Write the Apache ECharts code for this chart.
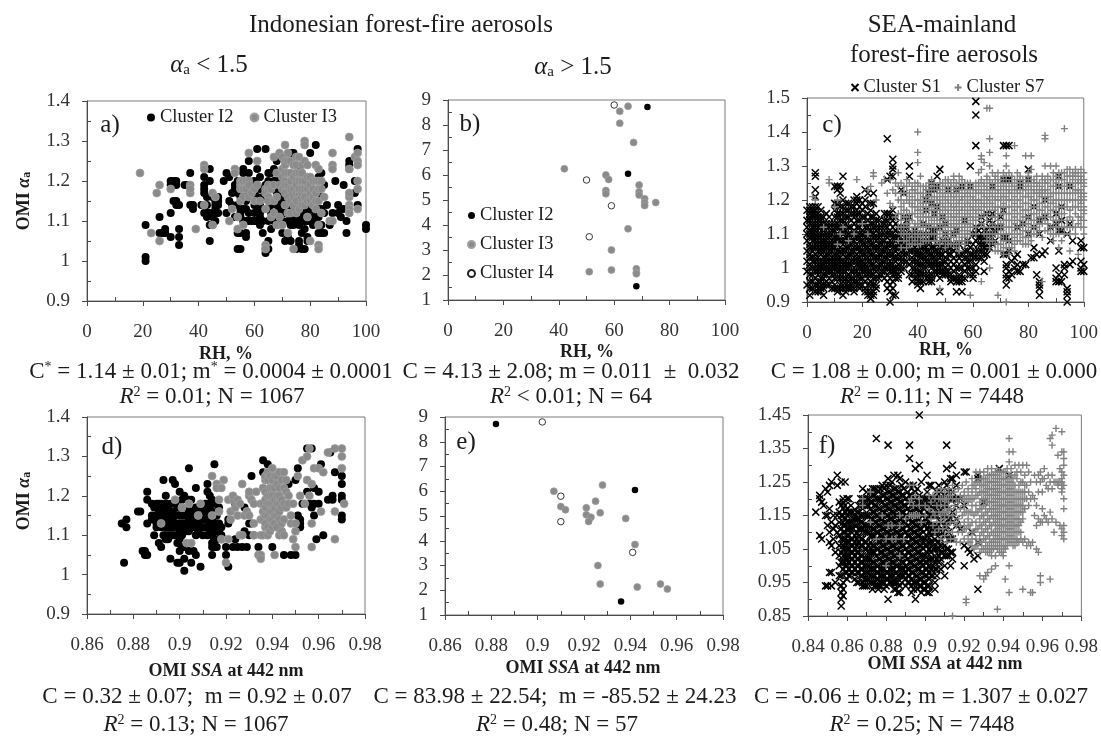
<!DOCTYPE html>
<html><head><meta charset="utf-8"><style>html,body{margin:0;background:#fff}#c{width:1101px;height:736px}</style>
<script src="https://cdn.jsdelivr.net/npm/echarts@6/dist/echarts.min.js"></script></head><body><div id="c"></div>
<script>
// Columns: [x, y-values in hundredths...]; panels a and c x = RH %, panels d and f x = SSA in thousandths
const a_I2=[[21,100,101,109],[26,107,111],[27,107],[28,108,107],[30,106,112,120,119],[31,120,119,115],[32,114,120,119,115],[33,104,106,108,114],[35,119],[36,119],[37,122,114],[38,114,113],[41,114],[42,121,119,118,117,112],[43,112,111,114,116],[44,105,109,123,120,112],[45,116,111,109],[46,115,114,113,110,112],[47,116,115,114,112],[49,120],[50,112,122],[51,115,121],[52,114,117],[53,118,111,119],[54,107,103,120,114,111,117],[55,103,113,112,111,118,119,116,107],[56,123,122,117,113,110],[57,106,107,113,110,118,115],[58,125,122,120,110,112,116],[59,110,118],[60,110,114,117,112,120],[61,128,123,110,119,113,116],[62,111,110,112,109,114,118,121],[63,107,116,110,113],[64,128,119,102,103],[65,105,103,110,118,113,115,120,122],[66,108,112,122,114,118],[67,115,123,110,118,120],[68,109,112,120,114,117,125],[69,110,116,118,113,120],[70,107,113,119,110,115,117],[71,105,122,114,112,116,118],[72,106,113,110,115,117],[73,105,109,127,112,114,116],[74,114,109,127,111,113,116],[75,103,115,110,112,113,118],[76,104,105,111,113,123,115,109,112,118],[77,103,112,110,116,122,107,114,118],[78,103,110,113,119,108,111,116],[79,105,106,112,110,114],[80,127,113,110,120],[81,113,111,115,109],[82,129,110,112],[83,107,109,111,113,121],[84,107,109,122,113,116],[85,119,107,112],[86,114],[87,109],[88,112],[89,120],[90,112,114],[91,113,111],[92,113,119],[93,107,110],[94,124,125,123],[96,117,120],[97,128,114],[100,108,109]];
const a_I3=[[19,122],[23,107],[25,117],[26,105,119],[30,118],[37,119,117,118],[39,108],[42,124,123,114],[45,109,117],[46,116],[51,110],[52,113],[53,123,122],[54,108,111],[55,119,118,115,120],[56,109,118,120,116],[57,120,118],[58,127,116,120,119],[59,117],[60,118,115],[61,125,119],[62,115],[64,104,103,113,118,117],[65,118,116,115,119],[66,111,118],[67,126,112,115,119],[68,116,109,122],[69,127,111,119],[70,109,121,126,118,123],[71,129,125,124,122,120,119,117,114],[72,127,107,112,122,125,119,116],[73,125,120,118,112,122,115],[74,124,103,118,116,121,114],[75,126,124,120,119,112,122,117,115],[76,126,117,118,113,122,120],[77,124,120,117,115,114,122,118],[78,130,129,125,118,116,120,114],[79,121,115,111,118,124],[80,105,119,117,115,121],[81,116,114,118,120],[82,124,120,117,113,115],[83,109,104,103,123,115,118,120],[84,120,118,112],[85,116],[87,110],[88,127,124,123,110],[94,131,123,116,117,114,113,112],[96,126],[97,127,125,124,120,118,113]];
const b_I2=[[72,8.72],[65,6.05],[68,1.55]];
const b_I3=[[65,8.75],[62,8.55],[62,8.07],[67,7.3],[42,6.25],[57,6],[58,5.82],[69,5.6],[57,5.38],[57,5.25],[69,5.33],[69,5.2],[71,5.05],[71,4.9],[71,4.78],[75,4.9],[65,3.85],[59,3],[59,2.2],[51,2.13],[68,2.25],[68,2.1],[68,2.05]];
const b_I4=[[60,8.8],[50,5.8],[59,4.77],[51,3.53]];
const c_S1=[[1,94,98,101,104,106,109,111,114,116,118],[2,96,100,103,105,108,110,112,115,117],[3,95,97,99,102,104,107,109,111,113,116,118,121,123,127,128],[4,94,96,99,101,103,106,108,110,113,115,118],[5,94,97,100,102,105,107,109,112,114,117],[6,92,95,98,101,103,106,108,111,113],[7,96,99,102,104,107,109,112],[8,97,100,102,105,107,110,113],[9,96,99,101,103,106,108,111],[10,94,97,100,102,104,107,109,112,115,119,124],[11,93,99,101,103,105,108,110,113,116,123,124],[12,95,98,100,103,106,109,112,118,122,124],[13,92,95,97,100,102,105,108,111,114,120,127],[14,93,99,101,103,106,109,113,117],[15,94,96,98,101,104,107,110,115,119],[16,95,99,102,105,108,112,116],[17,94,97,100,103,106,109,113,118,120],[18,96,99,102,104,107,110,114,117,120,121],[19,95,98,101,103,106,109,112,116,120],[20,97,100,102,105,108,111,115,119],[21,94,96,99,101,104,107,110,113,118,123],[22,92,95,98,100,103,106,109,112,116,122],[23,91,93,96,99,102,105,108,111,115,119],[24,92,95,98,101,104,107,110,113,122],[25,95,97,100,103,106,109,112,116],[26,98,101,104,107,110,114],[27,99,102,105,108,112],[28,97,100,103,106,110,113,116],[29,94,98,101,104,107,110,114,126,138],[30,90,93,97,100,102,105,108,111,116,127],[31,92,96,99,101,104,107,110,114,117,127,129,130,132],[32,92,98,100,103,106,109,113],[33,98,101,104,107,110],[34,100,103,106,110,123],[35,102,105,108,112,115,122],[36,104,107,110,114],[37,98,101,105,108,115,127,130],[38,96,100,103,107,110],[39,97,100,104,106,111],[40,95,97,99,102,105,108],[41,94,96,99,103,106],[42,98,101,104,107,113],[43,100,103,106,117,120],[44,96,97,102,105,108,112,122],[45,96,98,101,104,111,119,123,125],[46,101,103,106,111,116,123],[47,99,102,105,118,124,127],[48,93,99,101,104,112,129],[49,99,102,106,115],[50,98,100,103,107,113],[51,99,104,108,123],[52,96,98,102,106],[53,97,101,105,110],[54,93,96,100,111,123],[55,96,98,103,107],[56,93,96,100,104,124],[57,97,101,105,114],[58,100,103,108],[59,98,102,106,130,124],[60,97,98,103,110],[61,99,103,108,112,136,145,149],[62,103,107,111],[63,105,109,113,115],[64,99,104,107,111],[65,106,110,116],[66,106,110,114],[67,107,116,124],[68,111],[70,115],[71,126,136,117],[72,95,100,101,109,136,126],[73,97,99,108,136,126],[74,98,102],[76,99,101,104,112],[77,99,124,125],[78,101,113],[79,101],[80,129,126],[81,103],[82,103,106],[83,98,104],[84,92,94,95,96],[85,104],[86,105],[90,96,97,100],[91,96,98,105,111,124,127],[92,96,111],[93,100,98,101],[94,90,92,93,94],[95,124,101],[96,108,102],[99,99,100,102,106,108],[100,99,101,106]];
const c_S1_more=[[0,95,99,102,105,108,110,112,114,117],[1,92,96,100,103,107,110,113,115,117],[2,94,98,102,106,109,111,113,116,118],[3,93,100,103,106,108,110,112,115,117],[4,93,95,98,100,102,105,107,109,112,114,116],[5,93,96,99,101,104,106,108,110,113,115],[6,94,97,100,102,105,107,110,112,115],[7,95,98,100,103,106,108,110,113,116],[8,95,99,101,104,106,109,112,115],[9,94,98,100,102,105,107,110,113],[10,95,98,101,103,106,108,111,113,117],[11,94,97,100,102,104,107,109,112,115,119],[12,94,97,99,102,105,108,111,114,116],[13,94,96,99,101,104,107,110,113,116,118],[14,94,97,100,102,105,108,111,115,119],[15,95,97,100,103,106,109,112,117],[16,94,97,101,104,107,110,114,118],[17,93,96,99,102,105,108,111,115,116],[18,95,98,101,103,106,109,112,116,119],[19,94,97,100,102,105,108,110,114,118],[20,95,99,101,104,107,110,113,117],[21,93,98,100,103,106,109,112,115,120],[22,93,97,99,102,105,108,111,114],[23,92,95,98,101,104,107,110,113,117],[24,93,97,100,103,106,109,112,115,119],[25,94,99,102,105,108,111,114],[26,97,100,103,106,109,112],[27,98,101,104,107,110],[28,99,102,105,108,112,114],[29,96,100,103,106,109,112,116],[30,95,99,101,104,107,110,113],[31,94,98,100,103,106,109,112,115],[32,97,99,102,105,108,111,115],[33,97,100,103,106,109,112],[34,99,102,105,108,112],[35,100,104,107,110],[36,102,106,109,112],[38,98,102,105,108],[39,99,102,105,109],[40,96,98,101,104,107,110],[41,98,101,104,108],[42,96,100,103,106,110],[43,98,102,105,108],[44,98,101,104,107,110],[45,97,100,103,106,109],[46,99,102,105,109],[47,98,101,104,107],[48,97,100,103,106],[49,98,101,104,108],[50,99,102,105,110],[51,98,101,106],[52,97,100,104],[53,99,103,107],[54,97,102,106],[55,97,100,104],[56,97,102],[57,99,103],[58,102,105,107],[59,100,104],[60,100,104,107],[61,101,105,110],[62,105,109],[63,103,107],[64,102,106,109],[65,104,108],[66,108,112],[67,110,113],[68,108],[69,112],[70,112],[71,109,104],[72,97,98,104],[73,105],[75,100,103],[80,110,115],[82,112,118],[84,110,114],[86,115,120],[88,112,108],[90,113,116],[92,114,118],[94,110],[95,113]];
const c_S7=[[2,121],[3,120],[6,112],[8,125,126],[10,118],[11,107,120],[12,110],[13,112],[15,108],[17,110],[18,126],[20,113],[22,123,110],[23,124],[24,127,128],[25,120],[27,125],[28,126],[29,122],[30,119,126],[31,118,123],[32,115,122,125],[33,108,112,116,120,124,128],[34,106,110,114,118,122,125],[35,108,112,115,119,122],[36,106,110,113,117,120,124,126],[37,109,112,116,119,122,125],[38,107,111,114,118,121,124],[39,110,113,116,120,123],[40,109,112,115,118,122,125,131,134,140],[41,107,111,114,117,120,124,127],[42,110,113,116,119,122],[43,108,112,115,118,121,124],[44,110,113,117,120,123],[45,112,115,118,121,124],[46,110,113,116,119,123,125],[47,108,112,115,118,121,124],[48,94,107,111,114,117,120,123],[49,110,113,116,119,122,125],[50,106,109,112,115,118,121,124],[51,108,111,114,117,120,123,126],[52,107,110,113,116,119,122,125],[53,109,112,115,118,121,124,127],[54,106,110,113,116,119,122,125],[55,105,108,111,114,117,120,123,127],[56,109,112,115,118,121,124],[57,107,110,113,116,119,122,125],[58,108,111,114,117,120,123],[59,92,110,113,116,119,122,125],[60,112,115,118,121,124],[61,110,114,117,120,123],[62,115,118,122,125,128],[63,96,113,117,120,123,126,129,132,133],[64,110,116,119,122,125,131],[65,108,114,118,121,124,127,147],[66,100,106,110,117,120,123,126,130,134,138,147],[67,108,113,119,122,125,128],[68,105,110,115,118,121,124,127],[69,92,107,112,116,120,123,126,128],[70,105,109,113,118,121,124],[71,104,108,112,116,119,122,125,128],[72,90,106,110,114,118,121,124,127,130,133],[73,104,108,112,116,120,123,128],[74,106,110,114,118,122,125],[75,105,109,113,117,121,124,136],[76,108,112,116,120,123,126,128],[77,110,114,118,122,125,127],[78,107,111,115,119,123,126],[79,109,113,117,121,124,133],[80,107,111,115,119,122,125,128],[81,110,114,118,121,124,129,133],[82,112,116,120,123,126],[83,110,114,118,122,125],[84,113,117,121,123],[85,96,109,115,119,122,124,127],[86,111,116,120,123,126,130,138,139],[87,113,118,121,125],[88,110,115,119,122,126,130],[89,108,112,117,120,124,128],[90,110,114,118,122,125,130],[91,106,112,116,120,124,128],[92,108,114,118,122,126],[93,110,116,120,124,128,141],[94,112,118,122,125,129],[95,105,110,115,120,124,127],[96,112,118,122,126,128],[97,110,116,120,123,127,129],[98,104,113,118,122,125,128],[99,112,115,119,121,123,126,129],[100,110,114,117,120,122,125,128]];
const c_S7_more=[[34,112,116,120],[35,110,117,124],[36,108,115,122],[37,107,114,120],[38,109,116,119,123],[39,108,112,118,122,125],[40,107,110,113,117,120,124],[41,109,113,116,119,122],[42,108,112,115,118,121,124],[43,110,113,117,120,123],[44,108,112,115,119,122,125],[45,110,114,117,120,123,126],[46,108,112,115,118,121,124],[47,110,114,117,120,123],[48,109,113,116,119,122,125],[49,108,112,115,118,121,124],[50,108,111,114,117,120,123,126],[51,107,110,113,116,119,122,125],[52,109,112,115,118,121,124],[53,107,111,114,117,120,123,126],[54,108,112,115,118,121,124],[55,107,110,113,116,119,122,125],[56,108,111,114,117,120,123,126],[57,109,112,115,118,121,124],[58,110,113,116,119,122,125],[59,112,115,118,121,124],[60,114,117,120,123],[61,112,116,119,122,125],[62,117,120,124],[63,115,119,122,125],[64,112,118,121,124],[65,110,116,120,123,126],[66,108,112,119,122,125],[67,110,115,118,121,124],[68,107,112,117,120,123,126],[69,105,110,114,118,122,125],[70,107,111,116,120,123,126],[71,106,110,114,118,121,124,127],[72,108,112,116,120,123,126],[73,106,110,114,118,122,125],[74,108,112,116,120,124,127],[75,107,111,115,119,123,126],[76,110,114,118,122,125],[77,108,112,116,120,124,126],[78,109,113,117,121,125],[79,107,111,115,119,123,126],[80,109,113,117,121,124,127],[81,108,112,116,120,123,126],[82,110,114,118,122,125],[83,112,116,120,124,127],[84,111,115,119,122,125],[85,113,117,121,123,126],[86,114,118,122,125],[87,111,116,120,123,127],[88,112,117,121,124],[89,110,114,119,122,126],[90,112,116,120,124,127],[91,110,114,118,122,126],[92,112,116,120,124,128],[93,112,118,122,126],[94,114,120,124,127],[95,112,117,122,125,129],[96,114,120,124,127],[97,112,118,122,125,128],[98,115,120,123,126],[99,114,117,120,122,125,127],[100,112,116,118,121,124,126]];
const d_I2=[[875,113],[876,103],[877,112,114],[882,116],[883,116],[884,106],[885,105,106],[886,105,113,121,119],[888,118,114,115],[889,110,114,117],[890,112,115,118,113],[891,108,114,116,118],[892,107,112,115,118,117],[893,124,117,115,113,110],[894,120,118,114,109,110,116,112],[895,115,117,110,113,112,109],[896,104,114,118,116,112,110],[897,124,116,112,114,110],[898,123,115,113,110,118],[899,103,112,115,117,108],[900,103,106,113,115,121,117,111,109],[901,110,107,115,113,119],[902,104,101,107,120,115,112,113],[903,113,115,117,111],[904,127,106,114,119,111,116],[905,103,119,112,115,113,116],[906,106,114,116,112],[907,105,122,113,115,117,110],[908,111,115,113,117],[909,102,117,114,112,115],[910,112,115,114,110,117],[911,116,114,112,118],[912,123,121,118,115,112,110],[913,120,117,113,115,111],[914,105,110,108,114,112,116,119,107],[915,128,118,107,111,112,115,109,113],[916,115,113,109,111,107],[917,117,113,111],[918,109,112,110],[920,105,107],[921,102,114,113],[923,107],[924,109,118],[925,107],[927,107],[928,111,117],[929,107],[930,110,113],[931,125,113],[932,110],[934,107],[936,129,126],[937,125,116],[938,128,113],[939,117],[940,107,113],[942,112],[944,111],[945,105],[947,123],[948,105],[950,105,124],[951,127,115],[952,112,114,113],[953,118],[955,132,121],[956,118],[957,132,117],[958,115,122,118],[959,109],[960,121,118],[961,128],[962,110],[964,119],[965,131],[966,120,119],[967,126],[970,125,123,120,119,115,114]];
const d_I3=[[892,113],[898,119],[901,117],[903,108],[904,118],[905,108],[908,115],[909,118],[914,125,115],[916,123,122],[917,119,116],[918,122,109],[919,124],[920,103],[921,109,119],[922,114,116],[923,119,120],[924,117],[925,119,115],[926,110,118],[927,123,110],[928,115],[929,116],[930,120,115,121],[931,119],[932,118,110,113],[933,121],[934,105],[935,118,105,104,114,110],[936,114,122,118,116,110],[937,124,125,119,117,112,121,115,113],[938,126,115,110,124,120,118,112],[939,122,118,116,125,120,114,111],[940,127,124,122,120,118,116,114,112],[941,105,122,117,125,119,115,113],[942,125,120,118,115,123,112],[943,126,122,118,116,110,120,114],[944,119,113,124,117,111],[945,122,114,110,118,126],[946,124,121,117],[947,118,120],[948,115,113],[949,118,109],[950,111,107,113],[951,125],[952,120],[953,129],[954,118],[955,130,124],[956,132,120],[957,123,113,107],[958,127],[960,127],[961,116],[962,126],[964,131],[967,116,109,132],[970,130,127,132],[971,118]];
const e_I2=[[0.882,8.72],[0.942,6.05],[0.936,1.55]];
const e_I3=[[0.907,6],[0.928,6.25],[0.925,5.6],[0.91,5.38],[0.912,5.25],[0.921,5.33],[0.921,5.05],[0.927,5.13],[0.923,4.95],[0.922,4.78],[0.938,4.9],[0.942,3.85],[0.926,3],[0.927,2.25],[0.943,2.13],[0.953,2.25],[0.956,2.05]];
const e_I4=[[0.902,8.8],[0.91,5.8],[0.91,4.77],[0.941,3.53]];
const f_S1=[[844,116],[846,121,120,109],[847,119,108],[848,118],[849,123,115,94],[850,94,122,115,112],[851,124,117,110,107,98],[852,125,113,106,98,94],[853,115,111,108],[854,112,104,95],[855,127,124,115,110],[856,119,116,113,109,106,103,100,97],[857,125,118,115,111,108,104,101,97,94,92,90,88],[858,120,117,113,110,106,103,99,95,93,91],[859,125,116,112,108,105,101,98],[860,120,115,111,107,103,100,96],[861,120,113,109,105,101,97],[862,116,111,106,102,98],[863,114,108,104,100],[864,112,107,103,99,96],[865,116,110,106,102,98,95],[866,118,114,109,104,100,95],[867,120,115,111,106,101,97],[868,123,117,113,108,103,99,95,94],[869,120,115,110,105,100,96,94],[870,122,118,112,107,102,98,94],[871,120,115,110,104,100,96],[872,122,117,112,107,102,97,95],[873,123,119,114,109,104,99,95,93],[874,121,116,111,106,101,97,94],[875,138,123,118,113,108,103,98,94],[876,120,115,110,105,100,96,93],[877,123,117,112,107,102,97,94],[878,124,119,114,109,104,99,95],[879,121,116,111,106,101,97,93],[880,124,118,113,108,103,98,94],[881,136,126,120,115,110,105,100,96,90],[882,122,117,112,107,102,97],[883,125,119,114,109,104,99,95],[884,127,121,116,111,106,101,97,93],[885,123,118,113,108,103,98,93],[886,127,120,115,110,105,100,95,92],[887,126,122,117,112,107,102,97,92],[888,124,119,114,109,104,99,95],[889,121,116,111,106,101,97],[890,125,118,113,108,103,98,94],[891,122,117,112,107,102,97],[892,136,132,124,119,114,109,104,99,95],[893,121,116,111,106,101,96,92],[894,124,118,113,108,103,98,93],[895,129,120,115,110,105,100,95,90],[896,123,117,112,107,102,97,93],[897,145,130,119,114,109,104,99,94],[898,125,116,111,106,101,96,92],[899,120,113,108,103,98,93],[900,118,112,106,101,97,93],[901,127,120,114,109,104,99,92],[902,124,115,110,105,100,96,92],[903,124,118,112,107,102,97],[904,120,115,110,105,100],[905,118,112,108,103,99,93],[906,122,115,110,105,99],[907,124,116,110,105,101],[908,122,117,111,106,102],[909,120,115,110,104],[910,125,118,112,106,100],[911,136,129,124,118,112,105,103],[912,122,117,110,105],[913,126,120,114,108,104,100],[914,130,122,113,104],[916,127,124,118,112],[918,120,111],[920,128,118,106,100],[921,128],[922,105],[923,104],[924,110],[925,102],[927,127,126,107,103,93],[930,119],[938,129],[943,127]];
const f_S1_more=[[858,101,105,108,112,115,119],[860,98,102,105,109,113,117],[862,100,104,108,113,118],[864,101,105,109,114],[866,98,102,107,111,116],[868,97,101,106,111,115,120],[870,96,100,105,110,115,120],[872,99,104,109,114,119],[874,95,99,104,109,113,118,123],[876,94,98,102,107,112,117,122],[878,97,101,106,111,116,121],[880,96,100,105,110,115,120],[882,95,99,104,109,114,119,124],[884,95,99,103,108,113,118,123],[886,97,102,107,112,117,122],[888,97,101,106,111,116,121],[890,96,100,105,110,115,120],[892,97,101,106,111,116,121],[894,95,100,105,110,115,120],[896,95,99,104,109,114,119],[898,94,98,103,108,113,118],[900,95,99,103,108,114,120],[902,94,98,102,107,112,118],[904,97,102,107,112,117],[906,97,102,107,112,118,120],[908,99,104,108,113,119],[910,97,103,109,115,121],[912,103,108,114,120],[914,102,108,116,120,126],[916,114,120],[859,100,103,107,110,114,118],[861,99,103,107,111,116],[863,98,102,106,111,116],[865,100,104,108,112,114],[867,99,103,108,113,118],[869,98,102,107,112,118],[871,98,102,106,112,118],[873,97,101,106,111,116,121],[875,96,100,105,110,115,120],[877,95,99,104,109,114,120],[879,95,99,103,108,113,118,123],[881,98,102,107,112,117,122],[883,97,101,106,111,116,121],[885,95,100,105,110,115,120],[887,94,99,104,109,114,119],[889,99,103,108,113,118,123],[891,95,99,104,109,114,119],[893,94,98,103,108,113,118,123],[895,97,102,107,112,117,122],[897,96,101,106,111,116,121],[899,95,100,105,110,115,118],[901,94,97,101,106,111,116,122],[903,99,104,109,115,120],[905,95,101,105,110,115,120],[907,103,107,112,118,120]];
const f_S7=[[868,120,118],[872,122,113],[875,108],[878,115],[880,108,100],[881,112],[883,112,108],[885,108],[887,115,112,103],[889,108],[890,114],[892,124,119,115],[893,120,115],[894,124,118,115],[895,121,115],[896,115],[897,120,118,115],[898,113],[900,118,115],[902,121,117],[903,119,114],[904,121,116,112],[905,120,115,110],[906,122,118,113],[907,120,116,111],[908,123,118,113,108],[909,120,116,111],[910,122,118,114,109],[911,120,116,112,107],[912,123,119,115,110],[913,121,117,113,108],[914,124,120,115,110,85],[915,122,118,113,108],[916,120,116,112,107],[917,123,119,114,110],[918,121,117,112,107],[919,124,120,115,110],[920,122,118,113,108],[921,125,120,116,111,90,89],[922,123,119,114,109],[923,120,116,112,107],[924,126,122,118,113,108],[925,124,120,115,110,105],[926,128,123,118,113,108],[927,125,121,116,111,106],[928,128,124,119,114,109,104,97],[929,126,122,117,112,107],[930,128,124,120,115,110,105,96],[931,126,122,118,113,108,104,97],[932,129,125,121,116,111,106,98],[933,127,123,119,114,109,105],[934,129,125,121,117,112,107,103,99],[935,127,123,119,115,110,105],[936,128,124,120,116,112,108,103,100],[937,129,125,121,117,113,109,105,87],[938,126,122,118,114,110,106],[939,128,124,120,116,112,108,104],[940,126,122,118,114,110,106,103],[941,128,124,120,116,112,108,105,96],[942,129,126,122,118,114,110,106],[943,138,134,131,127,123,119,115,111,107,100,92],[944,129,125,121,117,113,109],[945,134,126,122,118,114,110,106],[946,130,124,120,116,112,108],[947,128,122,118,114,110,107],[948,130,124,120,116,112,107],[949,128,122,118,113,108],[950,130,125,120,116,107,93],[951,127,122,117,108],[952,130,124,120,106],[953,128,122,118,107],[954,125,120,106,92],[955,121,107,92],[956,127,120,115],[957,125,118,112,105],[958,127,122,114,104],[959,128,125,113,95,97],[960,126,122,117,113],[961,129,126,115],[962,124,114],[963,127,123,113],[964,138,125,116,96],[965,139,136,127,123,114],[966,125,110],[967,141,125,113],[968,133,125,124],[969,129,125,112],[970,140,134,128,126,125,124,123,122,111,109],[971,134,132,130,127,124,120,117,112,110,108]];
const f_S7_more=[[908,115,120],[910,116,120],[912,117,121],[920,116,120,111],[922,121,116,112,107],[924,124,120,116,110,106],[926,125,121,116,111,106],[928,126,122,117,112,107],[929,124,120,115,110,105],[930,126,122,118,113,108],[931,124,120,116,111,106],[932,127,123,119,114,109,104],[933,125,121,117,112,107,104],[934,127,123,119,115,110,105],[935,125,121,117,113,108,106],[936,126,122,118,114,110,106],[937,127,123,119,115,111,107],[938,128,124,120,116,112,108,104],[939,126,122,118,114,110,106],[940,128,124,120,116,112,108,104],[941,126,122,118,114,110,106],[942,124,120,116,112,108],[943,125,121,117,113,109],[944,127,123,119,115,111,107],[945,124,120,116,112,108],[946,127,122,118,114,110,106],[947,126,120,116,112,108],[948,122,118,114,110],[949,125,120,116,110],[950,122,118,114],[951,124,120]];
const fYTicks=[0.85,0.95,1.05,1.15,1.25,1.35,1.45];
const fYMinor=[0.9,1.0,1.1,1.2,1.3,1.4];

const FONT='"Liberation Serif"', INK='#1c1c1c', AX='#4a4a4a';
const rh=c=>c.flatMap(r=>r.slice(1).map(v=>[r[0],v/100]));
const ssa=c=>c.flatMap(r=>r.slice(1).map(v=>[r[0]/1000,v/100]));
const X_PATH='path://M1 1L9 9M9 1L1 9', P_PATH='path://M5 0L5 10M0 5L10 5';
const st={
 'Cluster I2':{symbol:'circle',itemStyle:{color:'#000',opacity:1}},
 'Cluster I3':{symbol:'circle',itemStyle:{color:'#8a8a8a',borderColor:'#a0a0a0',borderWidth:.7,opacity:1}},
 'Cluster I4':{symbol:'circle',itemStyle:{color:'#fff',borderColor:'#222',borderWidth:.9,opacity:1}},
 'Cluster S1':{symbol:X_PATH,itemStyle:{color:'none',borderColor:'#000',borderWidth:1.5,opacity:1}},
 'Cluster S7':{symbol:P_PATH,itemStyle:{color:'none',borderColor:'#808080',borderWidth:1.4,opacity:1}}
};
const P=[
 {b:[87,366,101,301],x:[0,100,20],y:[0.9,1.4,0.1],s:[['Cluster I2',rh(a_I2),8],['Cluster I3',rh(a_I3),8]]},
 {b:[448,725,100,300],x:[0,100,20],y:[1,9,1],s:[['Cluster I2',b_I2,6.5],['Cluster I3',b_I3,7],['Cluster I4',b_I4,6.5]]},
 {b:[807,1085,98,302],x:[0,100,20],y:[0.9,1.5,0.1],s:[['Cluster S1',rh(c_S1.concat(c_S1_more)),7],['Cluster S7',rh(c_S7.concat(c_S7_more)),7]]},
 {b:[87,365,417,614],x:[0.86,0.98,0.02],y:[0.9,1.4,0.1],s:[['Cluster I2',ssa(d_I2),8],['Cluster I3',ssa(d_I3),8]]},
 {b:[445,723,417,615],x:[0.86,0.98,0.02],y:[1,9,1],s:[['Cluster I2',e_I2,6.5],['Cluster I3',e_I3,7],['Cluster I4',e_I4,6.5]]},
 {b:[808,1082,415,616],x:[0.84,0.98,0.02],y:[0.85,1.45,0.05],custom:true,s:[['Cluster S1',ssa(f_S1.concat(f_S1_more)),7],['Cluster S7',ssa(f_S7.concat(f_S7_more)),7]]}
];
const lab={color:'#333',fontFamily:FONT,fontSize:19};
const line={lineStyle:{color:AX,width:1}};
const grid=[],xAxis=[],yAxis=[],series=[];
P.forEach((p,i)=>{
 grid.push({left:p.b[0],top:p.b[2],width:p.b[1]-p.b[0],height:p.b[3]-p.b[2],show:true,borderColor:'#7a7a7a',borderWidth:1,backgroundColor:'transparent'});
 xAxis.push({type:'value',gridIndex:i,min:p.x[0],max:p.x[1],interval:p.x[2],splitLine:{show:false},
  axisLine:{show:true,onZero:false,...line},axisTick:{show:true,length:5,...line},
  minorTick:{show:true,splitNumber:2,length:-4,...line},axisLabel:{...lab,margin:22,showMinLabel:true,showMaxLabel:true}});
 const yi=yAxis.length;
 const y={type:'value',gridIndex:i,min:p.y[0],max:p.y[1],interval:p.y[2],splitLine:{show:false},
  axisLine:{show:true,onZero:false,...line},axisTick:{show:true,length:5,...line},
  minorTick:{show:!p.custom,splitNumber:2,length:-4,...line},axisLabel:{...lab,margin:17,showMinLabel:true,showMaxLabel:true}};
 if(p.custom){y.axisTick.customValues=fYTicks;y.axisLabel.customValues=fYTicks;y.axisLabel.formatter=v=>String(+v.toFixed(2));}
 yAxis.push(y);
 if(p.custom){yAxis.push({type:'value',gridIndex:i,position:'left',min:p.y[0],max:p.y[1],interval:p.y[2],splitLine:{show:false},
  axisLine:{show:false},axisLabel:{show:false},axisTick:{show:true,inside:true,length:4,customValues:fYMinor,...line}});}
 p.s.forEach(s=>series.push({name:s[0],type:'scatter',xAxisIndex:i,yAxisIndex:yi,data:s[1],symbolSize:s[2],symbol:st[s[0]].symbol,itemStyle:st[s[0]].itemStyle,emphasis:{disabled:true},silent:true,clip:false}));
});
const legTxt={fontFamily:FONT,fontSize:18.5,color:INK};
const legend=[
 {left:147,top:108,itemWidth:8,itemHeight:8,itemGap:16,data:[{name:'Cluster I2',icon:'circle'},{name:'Cluster I3',icon:'circle'}],textStyle:legTxt,padding:0,selectedMode:false},
 {left:467,top:206,orient:'vertical',itemWidth:7,itemHeight:7,itemGap:10,data:[{name:'Cluster I2',icon:'circle'},{name:'Cluster I3',icon:'circle'},{name:'Cluster I4',icon:'circle'}],textStyle:legTxt,padding:0,selectedMode:false},
 {left:849,top:78,itemWidth:7,itemHeight:7,itemGap:11,data:[{name:'Cluster S1',icon:X_PATH},{name:'Cluster S7',icon:P_PATH}],textStyle:legTxt,padding:0,selectedMode:false}
];
const rich={
 i:{fontFamily:FONT,fontStyle:'italic',fontSize:23,fill:INK},
 n:{fontFamily:FONT,fontSize:23,fill:INK},
 sup:{fontFamily:FONT,fontSize:14,fill:INK,verticalAlign:'top'},
 t:{fontFamily:FONT,fontSize:25,fill:INK},
 ai:{fontFamily:FONT,fontStyle:'italic',fontSize:25,fill:INK},
 sub:{fontFamily:FONT,fontSize:15,fill:INK,verticalAlign:'bottom'},
 p:{fontFamily:FONT,fontSize:25,fill:INK},
 b:{fontFamily:FONT,fontWeight:'bold',fontSize:18,fill:INK},
 bi:{fontFamily:FONT,fontWeight:'bold',fontStyle:'italic',fontSize:18,fill:INK},
 bsub:{fontFamily:FONT,fontWeight:'bold',fontSize:12,fill:INK,verticalAlign:'bottom'}
};
const T=(x,y,text,rot)=>({type:'text',x,y,rotation:rot||0,silent:true,style:{text,rich,align:'center',verticalAlign:'middle',font:'23px '+FONT,fill:INK}});
const graphic=[
 T(401,25,'{t|Indonesian forest-fire aerosols}'),
 T(209,65,'{ai|α}{sub|a}{t| < 1.5}'),T(573,67,'{ai|α}{sub|a}{t| > 1.5}'),
 T(942,25,'{t|SEA-mainland}'),T(944,55,'{t|forest-fire aerosols}'),
 T(110,125,'{p|a)}'),T(470,124,'{p|b)}'),T(832,125,'{p|c)}'),T(112,447,'{p|d)}'),T(466,442,'{p|e)}'),T(827,446,'{p|f)}'),
 T(24,201,'{b|OMI }{bi|α}{bsub|a}',Math.PI/2),T(24,501,'{b|OMI }{bi|α}{bsub|a}',Math.PI/2),
 T(226,354,'{b|RH, %}'),T(587,352,'{b|RH, %}'),T(946,350,'{b|RH, %}'),
 T(226,671,'{b|OMI }{bi|SSA}{b| at 442 nm}'),T(583,668,'{b|OMI }{bi|SSA}{b| at 442 nm}'),T(945,664,'{b|OMI }{bi|SSA}{b| at 442 nm}'),
 T(211,372,'{n|C}{sup|*}{n| = 1.14 ± 0.01; m}{sup|*}{n| = 0.0004 ± 0.0001}'),T(212,397,'{i|R}{sup|2}{n| = 0.01; N = 1067}'),
 T(571,372,'{n|C = 4.13 ± 2.08; m = 0.011  ±  0.032}'),T(571,397,'{i|R}{sup|2}{n| < 0.01; N = 64}'),
 T(934,372,'{n|C = 1.08 ± 0.00; m = 0.001 ± 0.000}'),T(932,397,'{i|R}{sup|2}{n| = 0.11; N = 7448}'),
 T(197,697,'{n|C = 0.32 ± 0.07;  m = 0.92 ± 0.07}'),T(196,725,'{i|R}{sup|2}{n| = 0.13; N = 1067}'),
 T(555,697,'{n|C = 83.98 ± 22.54;  m = -85.52 ± 24.23}'),T(557,725,'{i|R}{sup|2}{n| = 0.48; N = 57}'),
 T(921,697,'{n|C = -0.06 ± 0.02; m = 1.307 ± 0.027}'),T(922,725,'{i|R}{sup|2}{n| = 0.25; N = 7448}')
];
const chart=echarts.init(document.getElementById('c'),null,{renderer:'canvas'});
chart.setOption({animation:false,backgroundColor:'#fff',textStyle:{fontFamily:FONT},grid,xAxis,yAxis,series,legend,graphic});
</script></body></html>
